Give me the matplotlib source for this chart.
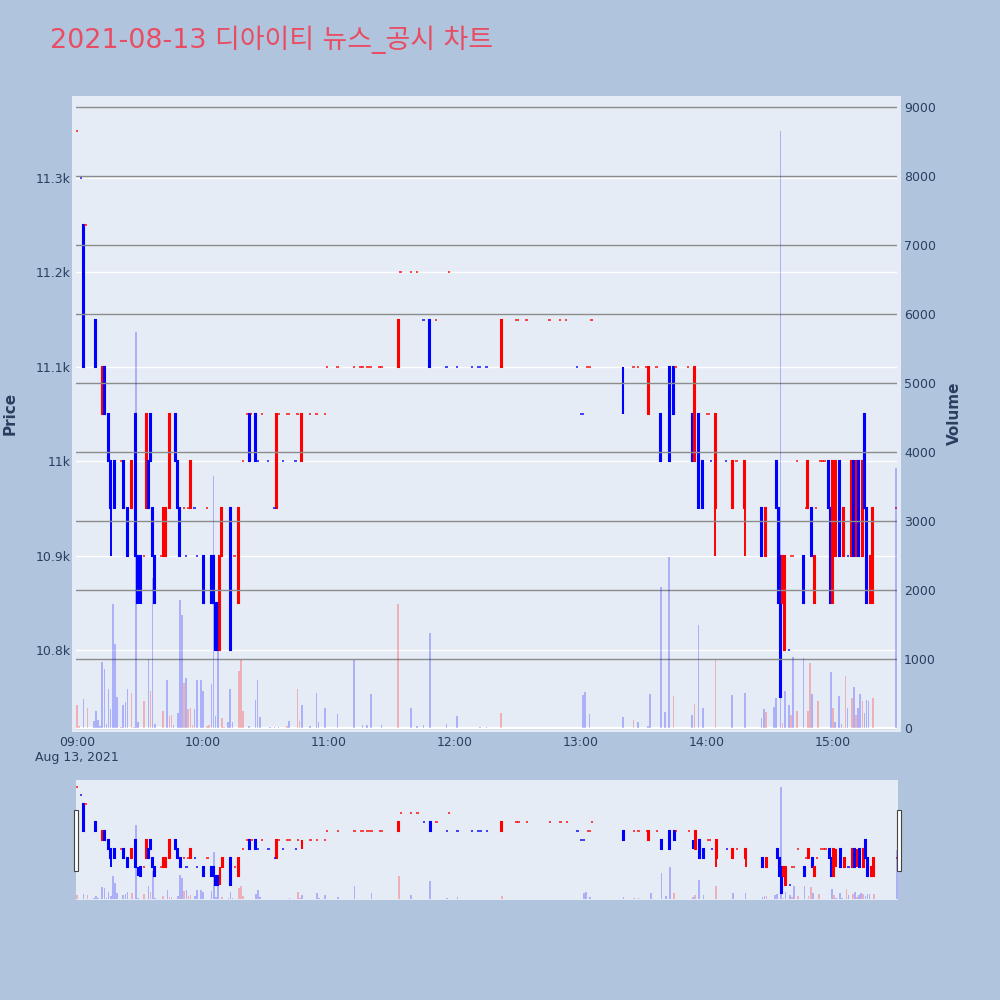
import numpy as np
import matplotlib.pyplot as plt
from matplotlib.patches import Rectangle

plt.rcParams['font.family'] = ['DejaVu Sans', 'Noto Sans CJK KR']

# minutes after 09:00
minutes = [0, 2, 3, 4, 9, 12, 13, 15, 16, 18,
           21, 22, 24, 26, 28, 29, 30, 32, 33, 34,
           35, 36, 37, 40, 41, 42, 44, 47, 48, 49,
           51, 52, 53, 54, 56, 57, 60, 62, 64, 65,
           66, 67, 68, 69, 73, 75, 77, 79, 81, 82,
           83, 85, 86, 88, 91, 94, 95, 96, 98, 100,
           101, 104, 105, 107, 111, 114, 118, 119, 124, 132,
           135, 136, 138, 139, 140, 144, 145, 153, 154, 159,
           162, 165, 168, 171, 176, 177, 181, 188, 191, 192,
           195, 202, 209, 210, 214, 225, 230, 233, 238, 240,
           241, 243, 244, 245, 260, 265, 267, 271, 272, 276,
           278, 282, 284, 285, 291, 293, 294, 296, 298, 300,
           301, 302, 304, 309, 312, 314, 318, 326, 328, 333,
           334, 335, 336, 337, 339, 340, 341, 343, 346, 347,
           348, 350, 351, 352, 354, 355, 356, 358, 359, 360,
           361, 363, 365, 367, 369, 370, 371, 372, 374, 375,
           376, 378, 379, 390]

opens = [11350, 11300, 11250, 11250, 11150, 11050, 11100, 11050, 11000, 11000,
         11000, 11000, 10950, 10950, 11050, 10900, 10900, 10900, 10950, 11000,
         11050, 10950, 10900, 10900, 10900, 10900, 10950, 11050, 11000, 10950,
         10950, 10900, 10950, 10950, 10950, 10900, 10900, 10950, 10900, 10900,
         10850, 10850, 10800, 10900, 10950, 10900, 10850, 11000, 11050, 11050,
         11050, 11050, 11000, 11050, 11000, 10950, 10950, 11050, 11000, 11050,
         11050, 11000, 11050, 11000, 11050, 11050, 11050, 11100, 11100, 11100,
         11100, 11100, 11100, 11100, 11100, 11100, 11100, 11100, 11200, 11200,
         11200, 11150, 11150, 11150, 11100, 11200, 11100, 11100, 11100, 11100,
         11100, 11100, 11150, 11150, 11150, 11150, 11150, 11150, 11100, 11050,
         11050, 11100, 11100, 11150, 11100, 11100, 11100, 11100, 11050, 11100,
         11050, 11100, 11100, 11100, 11100, 11050, 11000, 11050, 11000, 11050,
         11050, 11000, 10950, 11000, 10950, 11000, 10950, 10950, 10900, 11000,
         10950, 10900, 10850, 10800, 10800, 10900, 10900, 11000, 10900, 10950,
         10950, 10950, 10850, 10950, 11000, 11000, 11000, 11000, 10950, 10850,
         10900, 11000, 10900, 10900, 10900, 11000, 10900, 11000, 10900, 11050,
         10950, 10850, 10850, 10950]

highs = [11350, 11300, 11250, 11250, 11150, 11100, 11100, 11050, 11000, 11000,
         11000, 11000, 10950, 11000, 11050, 10900, 10900, 10900, 11050, 11000,
         11050, 10950, 10900, 10900, 10950, 10950, 11050, 11050, 11000, 10950,
         10950, 10900, 10950, 11000, 10950, 10900, 10900, 10950, 10900, 10900,
         10850, 10850, 10900, 10950, 10950, 10900, 10950, 11000, 11050, 11050,
         11050, 11050, 11000, 11050, 11000, 10950, 11050, 11050, 11000, 11050,
         11050, 11000, 11050, 11050, 11050, 11050, 11050, 11100, 11100, 11100,
         11100, 11100, 11100, 11100, 11100, 11100, 11100, 11150, 11200, 11200,
         11200, 11150, 11150, 11150, 11100, 11200, 11100, 11100, 11100, 11100,
         11100, 11150, 11150, 11150, 11150, 11150, 11150, 11150, 11100, 11050,
         11050, 11100, 11100, 11150, 11100, 11100, 11100, 11100, 11100, 11100,
         11050, 11100, 11100, 11100, 11100, 11050, 11100, 11050, 11000, 11050,
         11050, 11000, 11050, 11000, 11000, 11000, 11000, 10950, 10950, 11000,
         10950, 10900, 10900, 10900, 10800, 10900, 10900, 11000, 10900, 10950,
         11000, 10950, 10900, 10950, 11000, 11000, 11000, 11000, 10950, 11000,
         11000, 11000, 10950, 10900, 11000, 11000, 11000, 11000, 11000, 11050,
         10950, 10900, 10950, 10950]

lows = [11350, 11300, 11100, 11250, 11100, 11050, 11050, 11000, 10900, 10950,
        11000, 10950, 10900, 10950, 10900, 10850, 10850, 10900, 10950, 10950,
        11000, 10900, 10850, 10900, 10900, 10900, 10950, 11000, 10950, 10900,
        10950, 10900, 10950, 10950, 10950, 10900, 10850, 10950, 10850, 10850,
        10800, 10800, 10800, 10900, 10800, 10900, 10850, 11000, 11050, 11000,
        11050, 11000, 11000, 11050, 11000, 10950, 10950, 11050, 11000, 11050,
        11050, 11000, 11050, 11000, 11050, 11050, 11050, 11100, 11100, 11100,
        11100, 11100, 11100, 11100, 11100, 11100, 11100, 11100, 11200, 11200,
        11200, 11150, 11100, 11150, 11100, 11200, 11100, 11100, 11100, 11100,
        11100, 11100, 11150, 11150, 11150, 11150, 11150, 11150, 11100, 11050,
        11050, 11100, 11100, 11150, 11050, 11100, 11100, 11100, 11050, 11100,
        11000, 11000, 11050, 11100, 11100, 11000, 11000, 10950, 10950, 11050,
        11050, 11000, 10900, 11000, 10950, 11000, 10900, 10900, 10900, 10950,
        10850, 10750, 10850, 10800, 10800, 10900, 10900, 11000, 10850, 10950,
        10950, 10900, 10850, 10950, 11000, 11000, 11000, 10950, 10850, 10850,
        10900, 10900, 10900, 10900, 10900, 10900, 10900, 10900, 10900, 10950,
        10850, 10850, 10850, 10950]

closes = [11350, 11300, 11100, 11250, 11100, 11100, 11050, 11000, 10950, 10950,
          11000, 10950, 10900, 11000, 10900, 10850, 10850, 10900, 11050, 10950,
          11000, 10900, 10850, 10900, 10950, 10950, 11050, 11000, 10950, 10900,
          10950, 10900, 10950, 11000, 10950, 10900, 10850, 10950, 10850, 10850,
          10800, 10800, 10900, 10950, 10800, 10900, 10950, 11000, 11050, 11000,
          11050, 11000, 11000, 11050, 11000, 10950, 11050, 11050, 11000, 11050,
          11050, 11000, 11050, 11050, 11050, 11050, 11050, 11100, 11100, 11100,
          11100, 11100, 11100, 11100, 11100, 11100, 11100, 11150, 11200, 11200,
          11200, 11150, 11100, 11150, 11100, 11200, 11100, 11100, 11100, 11100,
          11100, 11150, 11150, 11150, 11150, 11150, 11150, 11150, 11100, 11050,
          11050, 11100, 11100, 11150, 11050, 11100, 11100, 11100, 11100, 11100,
          11000, 11000, 11050, 11100, 11100, 11000, 11100, 10950, 10950, 11050,
          11050, 11000, 11050, 11000, 11000, 11000, 11000, 10900, 10950, 10950,
          10850, 10750, 10900, 10900, 10800, 10900, 10900, 11000, 10850, 10950,
          11000, 10900, 10900, 10950, 11000, 11000, 11000, 10950, 10850, 11000,
          11000, 10900, 10950, 10900, 11000, 10900, 11000, 10900, 11000, 10950,
          10850, 10900, 10950, 10950]

vol_minutes = [0, 1, 3, 5, 8, 9, 10, 11, 12, 13,
               14, 15, 16, 17, 18, 19, 21, 22, 23, 24,
               26, 27, 28, 29, 32, 34, 35, 36, 37, 41,
               43, 44, 45, 46, 48, 49, 50, 51, 52, 53,
               54, 55, 56, 57, 59, 60, 62, 63, 64, 65,
               66, 67, 69, 70, 72, 73, 74, 77, 78, 79,
               82, 85, 86, 87, 92, 94, 96, 100, 101, 105,
               106, 107, 111, 114, 115, 118, 124, 132, 136, 138,
               140, 145, 153, 159, 162, 165, 168, 176, 181, 192,
               195, 202, 241, 242, 244, 260, 265, 267, 272, 273,
               278, 280, 282, 284, 293, 294, 296, 298, 304, 312,
               318, 326, 327, 328, 332, 333, 335, 336, 337, 339,
               340, 341, 343, 346, 348, 349, 350, 353, 359, 360,
               361, 363, 364, 365, 366, 367, 369, 370, 371, 372,
               373, 374, 375, 376, 377, 379, 390]

volumes = [340, 30, 420, 290, 100, 240, 120, 30, 960, 860,
           60, 560, 270, 1800, 1220, 450, 20, 330, 370, 570,
           510, 20, 5740, 80, 390, 1000, 540, 2180, 60, 240,
           690, 170, 190, 40, 220, 1860, 1640, 650, 720, 270,
           290, 40, 280, 690, 690, 530, 30, 40, 640, 3650,
           170, 1830, 150, 20, 90, 570, 90, 830, 990, 250,
           30, 400, 690, 160, 20, 10, 10, 30, 100, 570,
           100, 340, 30, 510, 80, 290, 200, 990, 50, 50,
           490, 50, 1800, 290, 30, 50, 1380, 60, 170, 20,
           20, 220, 480, 520, 200, 160, 110, 90, 30, 490,
           2040, 236, 2480, 460, 190, 350, 1490, 290, 980, 480,
           500, 145, 275, 230, 310, 430, 8650, 70, 540, 330,
           190, 1030, 250, 1010, 250, 940, 490, 390, 810, 290,
           90, 470, 60, 20, 750, 290, 440, 590, 190, 290,
           490, 390, 220, 410, 390, 440, 3770]

price_ticks = [10800, 10900, 11000, 11100, 11200, 11300]
price_labels = ['10.8k', '10.9k', '11k', '11.1k', '11.2k', '11.3k']
time_ticks = [0, 60, 120, 180, 240, 300, 360]
time_labels = ['09:00', '10:00', '11:00', '12:00', '13:00', '14:00', '15:00']
volume_ticks = [0, 1000, 2000, 3000, 4000, 5000, 6000, 7000, 8000, 9000]

UP = '#FF0000'
DOWN = '#0000FF'
PAGE_BG = '#B0C4DE'
PLOT_BG = '#E5ECF6'
FONT = '#2a3f5f'
PRICE_RANGE = (10713, 11387)
VOLUME_RANGE = (-58, 9159)
X_RANGE = (-0.5, 390.5)


def candle_directions(opens, closes):
    # plotly rule: open == close keeps direction unless close moved vs previous close
    up = []
    inc = True
    prev = None
    for o, c in zip(opens, closes):
        if c == o:
            if prev is not None and c != prev:
                inc = c > prev
        else:
            inc = c > o
        up.append(inc)
        prev = c
    return up


def volume_directions():
    cand = np.array(minutes)
    res = []
    for m in vol_minutes:
        i = int(np.argmin(np.abs(cand - m)))
        res.append(i == 0 or closes[i] > closes[i - 1])
    return res


def draw_series(ax, axv):
    up = candle_directions(opens, closes)
    colors = np.array([UP if u else DOWN for u in up])
    m = np.array(minutes)
    o = np.array(opens)
    c = np.array(closes)
    flat = o == c
    ax.vlines(m, lows, highs, colors=colors, linewidth=1.4, zorder=2)
    ax.bar(m[~flat], np.abs(c - o)[~flat], bottom=np.minimum(o, c)[~flat], width=0.45,
           color=colors[~flat], edgecolor=colors[~flat], linewidth=1.5, zorder=3)
    # open == close: short horizontal dash
    ax.hlines(c[flat], m[flat] - 0.55, m[flat] + 0.55, colors=colors[flat],
              linewidth=1.2, alpha=0.85, zorder=3)
    vcol = [(1, 0, 0, 0.25) if u else (0, 0, 1, 0.25) for u in volume_directions()]
    axv.bar(vol_minutes, volumes, width=0.8, color=vcol, linewidth=0, zorder=3)


fig = plt.figure(figsize=(10, 10), dpi=100, facecolor=PAGE_BG)

# plot background is a little wider than the grid area
fig.patches.append(Rectangle((0.072, 0.268), 0.829, 0.636, transform=fig.transFigure,
                             facecolor=PLOT_BG, edgecolor='none', zorder=-1))

ax = fig.add_axes([0.076, 0.268, 0.821, 0.636])
ax.set_facecolor(PLOT_BG)
ax2 = ax.twinx()
ax2.patch.set_visible(False)
draw_series(ax, ax2)

ax.set_xlim(*X_RANGE)
ax.set_ylim(*PRICE_RANGE)
ax.set_yticks(price_ticks)
ax.set_yticklabels(price_labels)
ax.set_xticks(time_ticks)
ax.set_xticklabels(time_labels)
ax.grid(axis='y', color='white', linewidth=1.0)
ax.set_axisbelow(True)
ax.tick_params(length=0, labelsize=9, labelcolor=FONT)
ax.tick_params(axis='y', pad=4)
ax.tick_params(axis='x', pad=3)

ax2.set_ylim(*VOLUME_RANGE)
ax2.set_yticks(volume_ticks)
ax2.grid(axis='y', color='#8c8c8c', linewidth=1.0)
ax2.axhline(0, color='white', linewidth=1.6, zorder=2.5)
ax2.tick_params(length=0, labelsize=9, labelcolor=FONT, pad=5)

for a in (ax, ax2):
    for s in a.spines.values():
        s.set_visible(False)

fig.text(0.077, 0.243, 'Aug 13, 2021', ha='center', va='center', fontsize=9, color=FONT)
fig.text(0.010, 0.587, 'Price', rotation=90, ha='center', va='center',
         fontsize=11, fontweight='bold', color=FONT)
fig.text(0.954, 0.587, 'Volume', rotation=90, ha='center', va='center',
         fontsize=11, fontweight='bold', color=FONT)
fig.text(0.050, 0.960, '2021-08-13 디아이티 뉴스_공시 차트', ha='left', va='center',
         fontsize=19.4, color='#E84D63')

# range slider
axs = fig.add_axes([0.076, 0.100, 0.822, 0.120])
axs.set_facecolor(PLOT_BG)
axs2 = axs.twinx()
axs2.patch.set_visible(False)
draw_series(axs, axs2)
axs.set_xlim(*X_RANGE)
axs.set_ylim(*PRICE_RANGE)
axs2.set_ylim(*VOLUME_RANGE)
for a in (axs, axs2):
    a.set_xticks([])
    a.set_yticks([])
    for s in a.spines.values():
        s.set_visible(False)

for hx in (0.0735, 0.8965):
    fig.patches.append(Rectangle((hx, 0.129), 0.004, 0.061, transform=fig.transFigure,
                                 facecolor='white', edgecolor='#444444', linewidth=0.8, zorder=5))

fig.savefig('out.png', dpi=100, facecolor=PAGE_BG)
